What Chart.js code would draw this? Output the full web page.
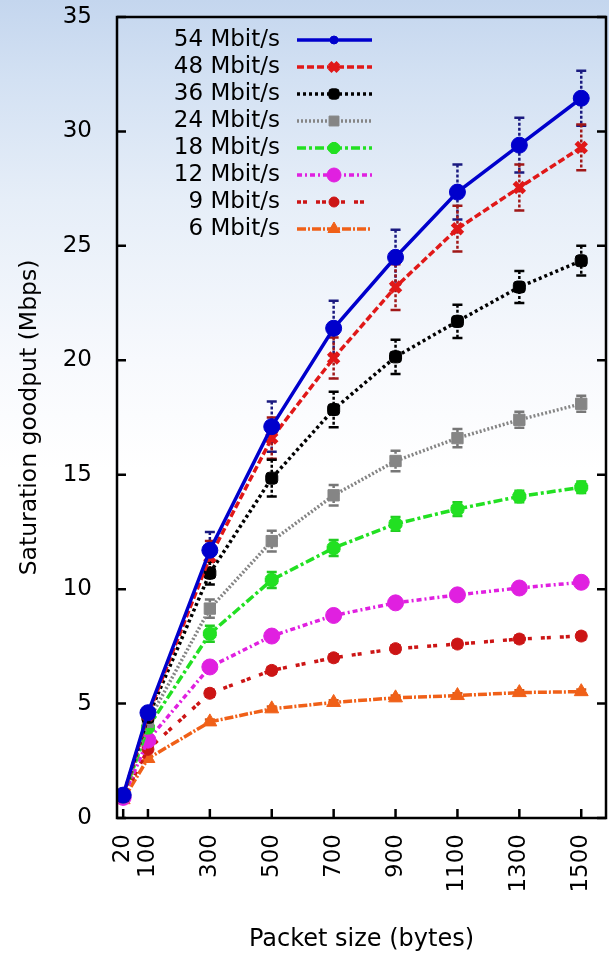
<!DOCTYPE html>
<html>
<head>
<meta charset="utf-8">
<script src="https://cdn.jsdelivr.net/npm/chart.js@4.4.1/dist/chart.umd.min.js"></script>
<style>
  html, body { margin: 0; padding: 0; }
  body {
    width: 609px; height: 957px; overflow: hidden;
    background: linear-gradient(to bottom, #c4d6ee 0px, #d3e1f3 80px, #e6eef8 200px, #f7f9fd 360px, #ffffff 470px);
  }
  #wrap { position: relative; width: 609px; height: 957px; }
</style>
</head>
<body>
<div id="wrap"><canvas id="chart" width="609" height="957"></canvas></div>
<script>
// packet sizes (bytes)
const packetSizes = [20, 100, 300, 500, 700, 900, 1100, 1300, 1500];
const yTicks = [0, 5, 10, 15, 20, 25, 30, 35];

const labels = ["54 Mbit/s", "48 Mbit/s", "36 Mbit/s", "24 Mbit/s", "18 Mbit/s", "12 Mbit/s", "9 Mbit/s", "6 Mbit/s"];

// saturation goodput (Mbps)
const rate54 = [1.0, 4.6, 11.7, 17.1, 21.4, 24.5, 27.35, 29.4, 31.45];
const rate48 = [0.95, 4.5, 11.4, 16.6, 20.1, 23.2, 25.75, 27.55, 29.3];
const rate36 = [0.95, 4.4, 10.7, 14.85, 17.85, 20.15, 21.7, 23.2, 24.35];
const rate24 = [0.95, 4.2, 9.15, 12.1, 14.1, 15.6, 16.6, 17.4, 18.1];
const rate18 = [0.95, 3.95, 8.05, 10.4, 11.8, 12.85, 13.5, 14.05, 14.45];
const rate12 = [0.9, 3.4, 6.6, 7.95, 8.85, 9.4, 9.75, 10.05, 10.3];
const rate9 = [0.9, 3.0, 5.45, 6.45, 7.0, 7.4, 7.6, 7.82, 7.95];
const rate6 = [0.8, 2.6, 4.2, 4.77, 5.05, 5.25, 5.35, 5.48, 5.52];

// error bar half-widths
const err54 = [0.05, 0.15, 0.8, 1.1, 1.2, 1.2, 1.2, 1.2, 1.2];
const err48 = [0.05, 0.15, 0.7, 0.9, 0.9, 1.0, 1.0, 1.0, 1.0];
const err36 = [0.05, 0.1, 0.5, 0.8, 0.78, 0.75, 0.73, 0.7, 0.65];
const err24 = [0.05, 0.1, 0.4, 0.45, 0.45, 0.45, 0.4, 0.35, 0.35];
const err18 = [0.05, 0.1, 0.35, 0.35, 0.35, 0.3, 0.3, 0.25, 0.25];
const err12 = [0.05, 0.1, 0.2, 0.2, 0.15, 0.15, 0.15, 0.15, 0.15];
const err9 = [0.05, 0.1, 0.15, 0.15, 0.15, 0.15, 0.15, 0.15, 0.15];
const err6 = [0.05, 0.1, 0.1, 0.1, 0.1, 0.1, 0.1, 0.1, 0.1];

const values = [rate54, rate48, rate36, rate24, rate18, rate12, rate9, rate6];
const errors = [err54, err48, err36, err24, err18, err12, err9, err6];

const colors = ["#0000cc", "#e01818", "#000000", "#858585", "#22e022", "#e020e0", "#cc1515", "#f06018"];
const errColors = ["#1a1a80", "#a01818", "#000000", "#777777", "#22cc22", "#c020c0", "#aa1515", "#d05818"];
const dashes = [[], [7, 3], [3, 3], [2, 2], [9, 3, 3, 3], [5, 3, 2, 3], [4, 2, 4, 9], [9, 2, 2, 2]];
const shapes = ["circle", "crossRot", "rectRounded", "rect", "star", "circle", "circle", "triangle"];
const radii = [8, 7, 7, 8, 7, 8, 6, 8];
const FONT = "'DejaVu Sans', sans-serif";

function markerBorder(shape) {
  return shape === "crossRot" || shape === "star" ? 5 : 1;
}

const datasets = values.map((vals, i) => ({
  label: labels[i],
  data: vals.map((v, j) => ({ x: packetSizes[j], y: v })),
  borderColor: colors[i],
  backgroundColor: colors[i],
  borderWidth: 3.5,
  borderDash: dashes[i],
  pointStyle: shapes[i],
  pointRadius: radii[i],
  pointBorderWidth: markerBorder(shapes[i]),
  pointBorderColor: colors[i],
  pointBackgroundColor: colors[i],
  tension: 0,
  fill: false,
}));

// gnuplot-like error bars
const errorBars = {
  id: "errorBars",
  beforeDatasetsDraw(chart) {
    const ctx = chart.ctx;
    const xs = chart.scales.x, ys = chart.scales.y;
    ctx.save();
    values.forEach((vals, i) => {
      ctx.strokeStyle = errColors[i];
      ctx.lineWidth = 2.5;
      vals.forEach((v, j) => {
        const px = xs.getPixelForValue(packetSizes[j]);
        const top = ys.getPixelForValue(v + errors[i][j]);
        const bot = ys.getPixelForValue(v - errors[i][j]);
        ctx.setLineDash([3, 2]);
        ctx.beginPath();
        ctx.moveTo(px, top);
        ctx.lineTo(px, bot);
        ctx.stroke();
        ctx.setLineDash([]);
        ctx.beginPath();
        ctx.moveTo(px - 5, top); ctx.lineTo(px + 5, top);
        ctx.moveTo(px - 5, bot); ctx.lineTo(px + 5, bot);
        ctx.stroke();
      });
    });
    ctx.restore();
  },
};

// frame, inward ticks and key
const frame = {
  id: "frame",
  afterDraw(chart) {
    const ctx = chart.ctx;
    const a = chart.chartArea;
    const xs = chart.scales.x, ys = chart.scales.y;
    ctx.save();
    ctx.strokeStyle = "#000";
    ctx.lineWidth = 2.5;
    ctx.strokeRect(a.left, a.top, a.right - a.left, a.bottom - a.top);
    ctx.beginPath();
    yTicks.forEach((t) => {
      const py = ys.getPixelForValue(t);
      ctx.moveTo(a.left, py); ctx.lineTo(a.left + 9, py);
      ctx.moveTo(a.right, py); ctx.lineTo(a.right - 9, py);
    });
    packetSizes.forEach((t) => {
      const px = xs.getPixelForValue(t);
      ctx.moveTo(px, a.bottom); ctx.lineTo(px, a.bottom - 9);
    });
    ctx.stroke();

    // key, top left inside the plot
    ctx.font = "23px " + FONT;
    ctx.textAlign = "right";
    ctx.textBaseline = "middle";
    labels.forEach((lab, i) => {
      const y = 40 + i * 27;
      ctx.fillStyle = "#000";
      ctx.fillText(lab, 280, y);
      ctx.strokeStyle = colors[i];
      ctx.lineWidth = 3.5;
      ctx.setLineDash(dashes[i]);
      ctx.beginPath();
      ctx.moveTo(297, y); ctx.lineTo(372, y);
      ctx.stroke();
      ctx.setLineDash([]);
      ctx.fillStyle = colors[i];
      ctx.lineWidth = markerBorder(shapes[i]);
      Chart.helpers.drawPoint(ctx, { pointStyle: shapes[i], radius: i === 0 ? 4 : radii[i] - 1, borderWidth: ctx.lineWidth }, 334, y);
    });
    ctx.restore();
  },
};

new Chart(document.getElementById("chart").getContext("2d"), {
  type: "line",
  data: { datasets },
  options: {
    responsive: false,
    animation: false,
    layout: { autoPadding: false, padding: { top: 17, right: 3, left: 0, bottom: 0 } },
    plugins: { legend: { display: false }, tooltip: { enabled: false } },
    scales: {
      x: {
        type: "linear",
        min: 0,
        max: 1580,
        afterBuildTicks: (scale) => { scale.ticks = packetSizes.map((v) => ({ value: v })); },
        afterFit: (scale) => {
          scale.height = 139;
          scale.paddingLeft = 0;
          scale.paddingRight = 0;
        },
        grid: { display: false },
        border: { display: false },
        ticks: {
          autoSkip: false,
          minRotation: 90,
          maxRotation: 90,
          padding: 8,
          color: "#000",
          font: { family: FONT, size: 23 },
          callback: (v) => String(v),
        },
        title: {
          display: true,
          text: "Packet size (bytes)",
          color: "#000",
          font: { family: FONT, size: 24 },
          padding: { top: 0, bottom: 3 },
        },
      },
      y: {
        min: 0,
        max: 35,
        afterBuildTicks: (scale) => { scale.ticks = yTicks.map((v) => ({ value: v })); },
        afterFit: (scale) => {
          scale.width = 117;
          scale.paddingTop = 0;
          scale.paddingBottom = 0;
        },
        grid: { display: false },
        border: { display: false },
        ticks: {
          padding: 17,
          color: "#000",
          font: { family: FONT, size: 23 },
        },
        title: {
          display: true,
          text: "Saturation goodput (Mbps)",
          color: "#000",
          font: { family: FONT, size: 23.5 },
          padding: { top: 16, bottom: 0 },
        },
      },
    },
  },
  plugins: [errorBars, frame],
});
</script>
</body>
</html>
